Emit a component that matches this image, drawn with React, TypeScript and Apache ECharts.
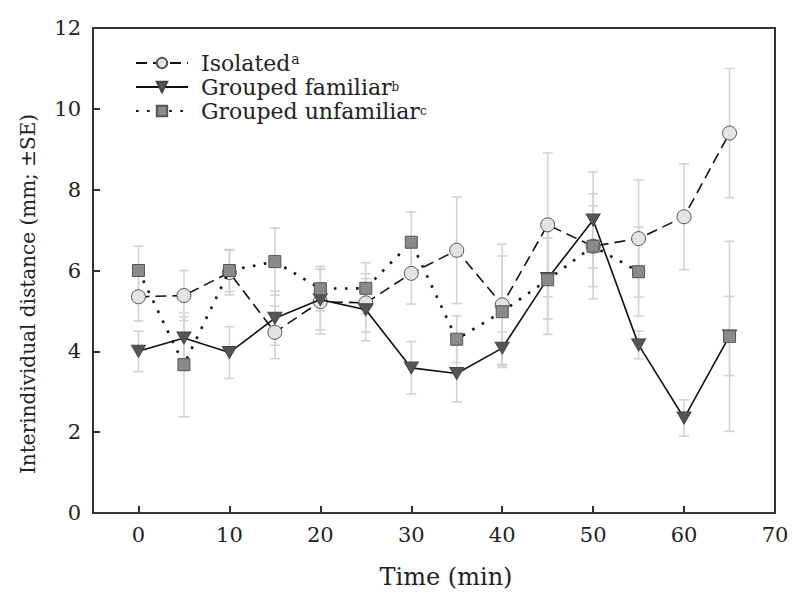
import React, { useEffect, useRef } from "react";
import * as echarts from "echarts";

const times = [0, 5, 10, 15, 20, 25, 30, 35, 40, 45, 50, 55, 60, 65];
const isolated = [5.35, 5.38, 5.95, 4.47, 5.23, 5.2, 5.93, 6.5, 5.15, 7.13, 6.6, 6.79, 7.33, 9.4];
const isolatedSE = [0.6, 0.62, 0.55, 0.65, 0.8, 0.72, 0.76, 1.32, 1.5, 1.78, 1.3, 1.45, 1.31, 1.6];
const familiar = [4.0, 4.33, 3.97, 4.82, 5.28, 5.03, 3.59, 3.45, 4.08, 5.8, 7.25, 4.16, 2.35, 4.38];
const familiarSE = [0.5, 0.52, 0.64, 0.67, 0.75, 0.77, 0.65, 0.7, 0.4, 1.0, 1.19, 0.34, 0.45, 0.98];
const unfamiliar = [6.0, 3.67, 6.0, 6.22, 5.55, 5.56, 6.7, 4.3, 4.98, 5.77, 6.6, 5.97, null, 4.37];
const unfamiliarSE = [0.6, 1.29, 0.52, 0.83, 0.55, 0.63, 0.75, 0.58, 1.38, 1.35, 1.0, 1.1, null, 2.35];

const xTicks = [0, 10, 20, 30, 40, 50, 60];
const xLabels = [0, 10, 20, 30, 40, 50, 60, 70];

const seriesNames = ["Isolated", "Grouped familiar", "Grouped unfamiliar"];
const supers: Record<string, string> = { Isolated: "a", "Grouped familiar": "b", "Grouped unfamiliar": "c" };

const FONT = "DejaVu Serif";

function pairs(vals: (number | null)[]) {
  return times.map((t, i) => [t, vals[i]]);
}
function errData(vals: (number | null)[], se: (number | null)[]) {
  const out: number[][] = [];
  times.forEach((t, i) => {
    const v = vals[i];
    const e = se[i];
    if (v != null && e != null) out.push([t, v - e, v + e]);
  });
  return out;
}

function errSeries(data: number[][]) {
  return {
    type: "custom",
    z: 1,
    silent: true,
    data,
    encode: { x: 0, y: [1, 2] },
    renderItem: (params: any, api: any) => {
      const x = api.value(0);
      const lo = api.coord([x, api.value(1)]);
      const hi = api.coord([x, api.value(2)]);
      const w = 5;
      const st = { stroke: "#d3d3d3", lineWidth: 1.6 };
      return {
        type: "group",
        children: [
          { type: "line", shape: { x1: lo[0], y1: lo[1], x2: hi[0], y2: hi[1] }, style: st },
          { type: "line", shape: { x1: lo[0] - w, y1: lo[1], x2: lo[0] + w, y2: lo[1] }, style: st },
          { type: "line", shape: { x1: hi[0] - w, y1: hi[1], x2: hi[0] + w, y2: hi[1] }, style: st },
        ],
      };
    },
  };
}

export default function App() {
  const ref = useRef<HTMLDivElement>(null);
  useEffect(() => {
    if (!ref.current) return;
    const chart = echarts.init(ref.current, null, { renderer: "svg" });
    chart.setOption({
      animation: false,
      backgroundColor: "#ffffff",
      grid: {
        left: 93,
        right: 25,
        top: 28,
        bottom: 89,
        show: true,
        borderColor: "#333",
        borderWidth: 2,
        backgroundColor: "transparent",
      },
      legend: {
        orient: "vertical",
        left: 135,
        top: 52,
        padding: 0,
        itemWidth: 52,
        itemHeight: 13,
        itemGap: 2,
        data: seriesNames,
        formatter: (name: string) =>
          supers[name] === "a" ? `${name}{a|${supers[name]}}` : `${name}{b|${supers[name]}}`,
        textStyle: {
          fontFamily: FONT,
          fontSize: 22,
          color: "#222",
          lineHeight: 22,
          padding: [0, 0, 0, 8],
          rich: {
            a: { fontFamily: FONT, fontSize: 14, color: "#222", verticalAlign: "top", lineHeight: 14, padding: [0, 0, 0, 1] },
            b: { fontFamily: FONT, fontSize: 12, color: "#222", verticalAlign: "top", lineHeight: 12, padding: [5, 0, 0, 0] },
          },
        },
      },
      xAxis: {
        type: "value",
        min: -5,
        max: 70,
        axisLine: { show: false, onZero: false },
        splitLine: { show: false },
        axisTick: {
          show: true,
          inside: true,
          length: 7,
          customValues: xTicks,
          lineStyle: { color: "#333", width: 2 },
        },
        axisLabel: {
          customValues: xLabels,
          fontFamily: FONT,
          fontSize: 21,
          color: "#222",
          margin: 11,
        },
      },
      yAxis: {
        type: "value",
        min: 0,
        max: 12,
        interval: 2,
        axisLine: { show: false, onZero: false },
        splitLine: { show: false },
        axisTick: { show: true, inside: true, length: 7, lineStyle: { color: "#333", width: 2 } },
        axisLabel: { fontFamily: FONT, fontSize: 21, color: "#222", margin: 12 },
      },
      graphic: [
        {
          type: "text",
          x: 28,
          y: 294,
          rotation: Math.PI / 2,
          style: {
            text: "Interindividual distance (mm; ±SE)",
            fontFamily: FONT,
            fontSize: 20,
            fill: "#222",
            textAlign: "center",
            textVerticalAlign: "middle",
          },
        },
        {
          type: "text",
          x: 446,
          y: 577,
          style: {
            text: "Time (min)",
            fontFamily: FONT,
            fontSize: 24,
            fill: "#222",
            textAlign: "center",
            textVerticalAlign: "middle",
          },
        },
      ],
      series: [
        errSeries(errData(isolated, isolatedSE)),
        errSeries(errData(familiar, familiarSE)),
        errSeries(errData(unfamiliar, unfamiliarSE)),
        {
          name: "Isolated",
          type: "line",
          z: 3,
          data: pairs(isolated),
          symbol: "circle",
          symbolSize: 14,
          showAllSymbol: true,
          itemStyle: { color: "#e3e3e3", borderColor: "#555", borderWidth: 1 },
          lineStyle: { color: "#111", width: 1.6, type: [11, 6] },
        },
        {
          name: "Grouped familiar",
          type: "line",
          z: 4,
          data: pairs(familiar),
          symbol: "triangle",
          symbolRotate: 180,
          symbolSize: [14, 12],
          itemStyle: { color: "#555", borderColor: "#444", borderWidth: 1 },
          lineStyle: { color: "#111", width: 1.6, type: "solid" },
        },
        {
          name: "Grouped unfamiliar",
          type: "line",
          z: 5,
          data: pairs(unfamiliar),
          connectNulls: false,
          symbol: "rect",
          symbolSize: 12,
          itemStyle: { color: "#8a8a8a", borderColor: "#555", borderWidth: 1 },
          lineStyle: { color: "#111", width: 2.6, type: [2.6, 8.5] },
        },
      ],
    });
    return () => chart.dispose();
  }, []);
  return (
    <div
      ref={ref}
      style={{ position: "fixed", left: 0, top: 0, width: 800, height: 602 }}
    />
  );
}
